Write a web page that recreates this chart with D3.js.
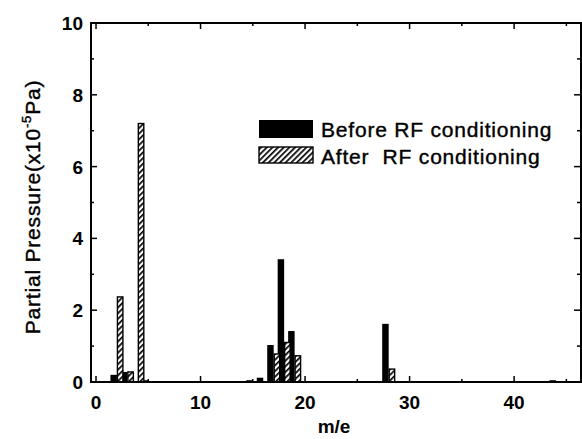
<!DOCTYPE html>
<html>
<head>
<meta charset="utf-8">
<title>Partial pressure</title>
<script src="https://d3js.org/d3.v7.min.js"></script>
<style>
  body { margin: 0; background: #fff; }
  text { font-family: "Liberation Sans", Arial, sans-serif; fill: #000; }
</style>
</head>
<body>
<svg id="chart" width="582" height="439"></svg>
<script>
// mass numbers and partial pressures (x10^-5 Pa)
var beforeMass = [2, 3, 5, 15, 16, 17, 18, 19, 28, 44];
var beforeP    = [0.2, 0.28, 0.05, 0.05, 0.12, 1.03, 3.42, 1.42, 1.62, 0.05];
var afterMass  = [2, 3, 4, 17, 18, 19, 28];
var afterP     = [2.37, 0.28, 7.2, 0.78, 1.1, 0.73, 0.36];

var xTicks = [0, 10, 20, 30, 40];
var yTicks = [0, 2, 4, 6, 8, 10];
var legendLabels = ["Before RF conditioning", "After  RF conditioning"];

(function() {
  var svg = d3.select("#chart");
  var pL = 91, pR = 581, pT = 23, pB = 382;

  var x = d3.scaleLinear().domain([-0.48, 46.4]).range([pL, pR]);
  var y = d3.scaleLinear().domain([0, 10]).range([pB, pT]);

  // hatch pattern
  var defs = svg.append("defs");
  var pat = defs.append("pattern")
    .attr("id", "hatch")
    .attr("patternUnits", "userSpaceOnUse")
    .attr("width", 4).attr("height", 4)
    .attr("patternTransform", "rotate(45)");
  pat.append("rect").attr("width", 4).attr("height", 4).attr("fill", "#fff");
  pat.append("rect").attr("width", 1.7).attr("height", 4).attr("fill", "#000");

  var bw = x(0.62) - x(0);

  // before bars (black)
  svg.append("g").selectAll("rect")
    .data(beforeMass.map(function(m, i) { return {m: m, p: beforeP[i]}; }))
    .enter().append("rect")
    .attr("x", function(d) { return x(d.m - 0.62); })
    .attr("y", function(d) { return y(d.p); })
    .attr("width", bw)
    .attr("height", function(d) { return pB - y(d.p); })
    .attr("fill", "#000");

  // after bars (hatched)
  svg.append("g").selectAll("rect")
    .data(afterMass.map(function(m, i) { return {m: m, p: afterP[i]}; }))
    .enter().append("rect")
    .attr("x", function(d) { return x(d.m) + 0.5; })
    .attr("y", function(d) { return y(d.p); })
    .attr("width", bw - 1)
    .attr("height", function(d) { return pB - y(d.p); })
    .attr("fill", "url(#hatch)")
    .attr("stroke", "#000")
    .attr("stroke-width", 1.4);

  // frame
  svg.append("rect")
    .attr("x", pL).attr("y", pT)
    .attr("width", pR - pL).attr("height", pB - pT)
    .attr("fill", "none").attr("stroke", "#000").attr("stroke-width", 2);

  // ticks, pointing inwards on all four sides
  var xMinor = d3.range(0, 46, 5);
  var yMinor = d3.range(0, 10.01, 1);
  var tg = svg.append("g").attr("stroke", "#000").attr("stroke-width", 1.5);
  xMinor.forEach(function(v) {
    var len = v % 10 === 0 ? 6 : 3;
    tg.append("line").attr("x1", x(v)).attr("x2", x(v)).attr("y1", pB).attr("y2", pB - len);
    tg.append("line").attr("x1", x(v)).attr("x2", x(v)).attr("y1", pT).attr("y2", pT + len);
  });
  yMinor.forEach(function(v) {
    var len = v % 2 === 0 ? 6 : 3;
    tg.append("line").attr("x1", pL).attr("x2", pL + len).attr("y1", y(v)).attr("y2", y(v));
    tg.append("line").attr("x1", pR - 1).attr("x2", pR - 1 - len).attr("y1", y(v)).attr("y2", y(v));
  });

  // tick labels
  svg.append("g").selectAll("text")
    .data(xTicks).enter().append("text")
    .attr("x", function(d) { return x(d); })
    .attr("y", 409)
    .attr("text-anchor", "middle")
    .attr("font-size", 19).attr("font-weight", "bold")
    .text(function(d) { return d; });

  svg.append("g").selectAll("text")
    .data(yTicks).enter().append("text")
    .attr("x", 83)
    .attr("y", function(d) { return y(d) + 7; })
    .attr("text-anchor", "end")
    .attr("font-size", 19).attr("font-weight", "bold")
    .text(function(d) { return d; });

  // axis titles
  svg.append("text")
    .attr("x", 334).attr("y", 433)
    .attr("text-anchor", "middle")
    .attr("font-size", 19).attr("font-weight", "bold")
    .text("m/e");

  var yt = svg.append("text")
    .attr("transform", "translate(40,207) rotate(-90)")
    .attr("text-anchor", "middle")
    .attr("font-size", 21)
    .attr("letter-spacing", 0.8)
    .attr("stroke", "#000").attr("stroke-width", 0.4);
  yt.append("tspan").text("Partial Pressure(x10");
  yt.append("tspan").attr("dy", -9).attr("font-size", 13).text("-5");
  yt.append("tspan").attr("dy", 9).text("Pa)");

  // legend
  var lg = svg.append("g");
  lg.append("rect").attr("x", 259).attr("y", 120).attr("width", 54).attr("height", 18).attr("fill", "#000");
  lg.append("rect").attr("x", 259).attr("y", 147).attr("width", 54).attr("height", 16)
    .attr("fill", "url(#hatch)").attr("stroke", "#000").attr("stroke-width", 1.4);
  lg.selectAll("text.lab").data(legendLabels).enter().append("text")
    .attr("class", "lab")
    .attr("x", 321)
    .attr("y", function(d, i) { return 137 + i * 27; })
    .attr("font-size", 21)
    .attr("letter-spacing", 0.8)
    .attr("stroke", "#000").attr("stroke-width", 0.4)
    .attr("xml:space", "preserve")
    .style("white-space", "pre")
    .text(function(d) { return d; });
})();
</script>
</body>
</html>
